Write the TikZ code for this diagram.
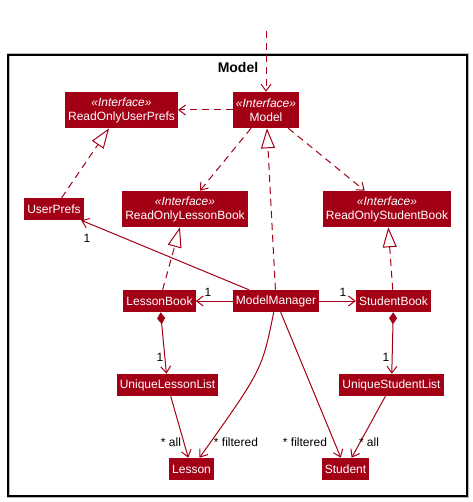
\documentclass[tikz,border=0pt]{standalone}
\usepackage{fontspec}
\setmainfont{Liberation Sans}
\usetikzlibrary{arrows.meta}
\definecolor{umlred}{RGB}{163,0,22}
\newcommand{\stereo}[1]{\textit{«Interface»}\\#1}
\tikzset{
	cls/.style={fill=umlred, text=white, font=\fontsize{9}{10.5}\selectfont, inner xsep=2.25pt, inner ysep=0pt, minimum height=16.5pt, align=center},
	iface/.style={cls, minimum height=27pt},
	link/.style={umlred, line width=0.75pt},
	dep/.style={link, dash pattern=on 5.25pt off 3.75pt, -{Straight Barb[length=5pt,width=7.5pt]}},
	real/.style={link, dash pattern=on 5.25pt off 3.75pt, -{Triangle[open,length=15pt,width=10.5pt]}},
	assoc/.style={link, -{Straight Barb[length=5pt,width=7.5pt]}},
	comp/.style={link, {Diamond[length=9pt,width=6pt]}-{Straight Barb[length=5pt,width=7.5pt]}},
	mult/.style={font=\fontsize{9}{10.5}\selectfont, inner sep=0pt}
}

\begin{document}
\begin{tikzpicture}[x=0.75pt, y=-0.75pt]
	\useasboundingbox (0,0) rectangle (473,502);
	
	% package frame
	\draw[gray!55, line width=2.25pt] (8,55) rectangle (467,496);
	\draw[line width=1.1pt] (8,55) rectangle (467,496);
	\node[font=\bfseries\fontsize{10.5}{12}\selectfont] (title) at (238,67) {Model};
	
	% classes
	\node[iface] (model) at (266,110) {\stereo{Model}};
	\node[iface] (rouprefs) at (121.5,110) {\stereo{ReadOnlyUserPrefs}};
	\node[cls] (userprefs) at (54,209) {UserPrefs};
	\node[iface] (rolbook) at (185,209) {\stereo{ReadOnlyLessonBook}};
	\node[iface] (rosbook) at (387,209) {\stereo{ReadOnlyStudentBook}};
	\node[cls] (lbook) at (159.5,301) {LessonBook};
	\node[cls] (mmanager) at (276,301) {ModelManager};
	\node[cls] (sbook) at (393.5,301) {StudentBook};
	\node[cls] (ullist) at (167.5,385) {UniqueLessonList};
	\node[cls] (uslist) at (391.5,385) {UniqueStudentList};
	\node[cls] (lesson) at (191.5,469) {Lesson};
	\node[cls] (student) at (345.5,469) {Student};
	
	\coordinate (outside) at (266,31);
	
	% dependencies
	\draw[dep] (outside) -- (model);
	\draw[dep] (model) -- (rouprefs);
	\draw[dep] (model) -- (rolbook);
	\draw[dep] (model) -- (rosbook);
	
	% realizations
	\draw[real] (mmanager) -- (model);
	\draw[real] (userprefs) -- (rouprefs);
	\draw[real] (lbook) -- (rolbook);
	\draw[real] (sbook) -- (rosbook);
	
	% associations
	\draw[assoc] (mmanager) -- (userprefs);
	\draw[assoc] (mmanager) -- (lbook);
	\draw[assoc] (mmanager) -- (sbook);
	\draw[comp] (lbook) -- (ullist);
	\draw[comp] (sbook) -- (uslist);
	\draw[assoc] (ullist) -- (lesson);
	\draw[assoc] (mmanager) .. controls (262,370) .. (lesson);
	\draw[assoc] (mmanager) -- (student);
	\draw[assoc] (uslist) -- (student);
	
	% multiplicities
	\node[mult] (m1) at (87,238) {1};
	\node[mult] (m2) at (208,292) {1};
	\node[mult] (m3) at (343,292) {1};
	\node[mult] (m4) at (160,357) {1};
	\node[mult] (m5) at (386,357) {1};
	\node[mult] (m6) at (171,442) {* all};
	\node[mult] (m7) at (236,442) {* filtered};
	\node[mult] (m8) at (305,442) {* filtered};
	\node[mult] (m9) at (369,442) {* all};
\end{tikzpicture}
\end{document}
